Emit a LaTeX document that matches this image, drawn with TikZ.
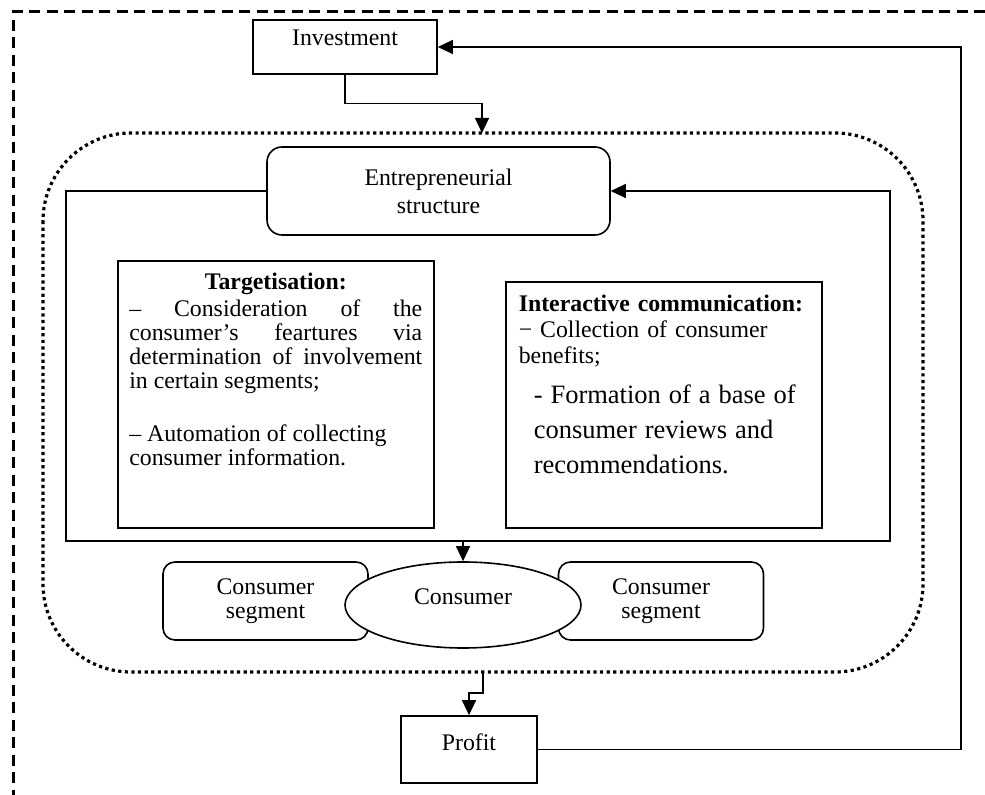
\documentclass[tikz,border=0pt]{standalone}
\usepackage{fontspec}
\setmainfont{Liberation Serif}
\usetikzlibrary{arrows.meta}
\usetikzlibrary{shapes.geometric}

\tikzset{
  box/.style={draw, line width=.8pt, inner sep=0pt},
  roundbox/.style={box, rounded corners=6pt, align=center},
  link/.style={line width=.6pt, -{Triangle[length=7.5pt,width=7pt]}},
}

\begin{document}
\begin{tikzpicture}[x=.5pt, y=-.5pt, font=\fontsize{11.9}{12}\selectfont]
\useasboundingbox (0,0) rectangle (985,795);
\draw[line width=1.5pt, dash pattern=on 5.5pt off 3.25pt] (985,12) -| (13,795);
\draw[line width=1.6pt, dash pattern=on 1.6pt off 1.7pt, rounded corners=44pt] (43,133) rectangle (923,672);

\node[box, minimum width=92pt, text height=13pt, text depth=14pt] (inv) at (345,47) {Investment};
\node[box, minimum width=68pt, text height=17.5pt, text depth=16pt] (prof) at (469,749.5) {Profit};
\node[roundbox, rounded corners=7.5pt, minimum width=171.5pt, minimum height=44pt] (ent) at (438.5,191) {Entrepreneurial\\[2pt]structure};

\node[box, anchor=north west, text width=146.5pt, inner xsep=5.75pt, text height=14.5pt, text depth=119pt, align=justify] (tgt) at (117,260) {%
{\centering\bfseries Targetisation:\par}\vspace{1.5pt}
– Consideration of the\linebreak consumer’s feartures via\linebreak determination of involvement\linebreak in certain segments;\par\vspace{14.5pt}
{\raggedright – Automation of collecting\\ consumer information.\par}};

\node[box, anchor=north west, text width=145pt, inner xsep=6.5pt, text height=15pt, text depth=108pt, align=left, font=\fontsize{11.9}{13}\selectfont] (ic) at (505,281) {%
\textbf{Interactive communication:}\\ − Collection of consumer\\ benefits;\par\vspace{2.5pt}
{\fontsize{13.25}{17.5}\selectfont\leftskip=7.5pt - Formation of a base of\\ consumer reviews and\\ recommendations.\par}};

\node[roundbox, minimum width=102.5pt, minimum height=39pt] (segl) at (265.5,601) {Consumer\\segment};
\node[roundbox, minimum width=102.5pt, minimum height=39pt] (segr) at (661,601) {Consumer\\segment};
\node[draw, ellipse, fill=white, line width=.8pt, inner sep=0pt, minimum width=118pt, minimum height=43pt, text height=5pt, text depth=5pt] (cons) at (463,605) {Consumer};

\coordinate (in) at (482,133);
\coordinate (out) at (483,672);
\coordinate (fb) at (961,749.5);
\coordinate (split) at (463,541);
\draw[link] (inv.south) -- ++(0,29) -| (in);
\draw[link] (prof.east) -- (fb) |- (inv.east);
\draw[link] (out) -- ++(0,21) -| (prof.north);
\draw[link] (ent.west) -| (66,541) -- (split) -- (cons.north);
\draw[link] (split) -- (890,541) |- (ent.east);
\end{tikzpicture}
\end{document}
